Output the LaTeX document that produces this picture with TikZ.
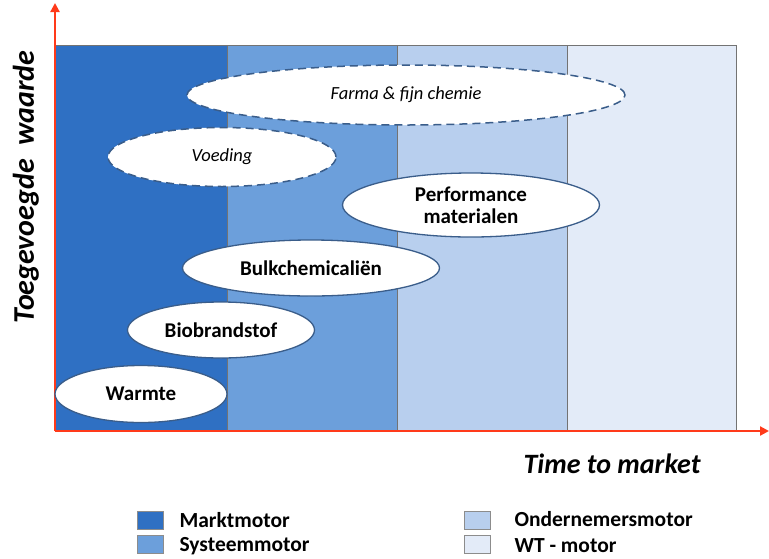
\documentclass[tikz,border=0pt]{standalone}
\usepackage{fontspec}
\setmainfont{Carlito}
\usetikzlibrary{shapes.geometric,arrows.meta}
\definecolor{cA}{HTML}{2F70C3}
\definecolor{cB}{HTML}{6C9FDB}
\definecolor{cC}{HTML}{B8CFEE}
\definecolor{cD}{HTML}{E3EBF8}
\definecolor{axisred}{HTML}{FF3A1A}
\definecolor{edge}{HTML}{3A5D8A}
\tikzset{
  col/.style={draw=black!55, line width=0.8pt},
  blob/.style={ellipse, draw=edge, fill=white, line width=1.3pt, inner sep=0pt, align=center, font=\fontsize{21}{22}\selectfont\bfseries},
  dblob/.style={blob, line width=1.5pt, dash pattern=on 8pt off 5pt, font=\fontsize{18.5}{20}\selectfont\itshape},
  legbox/.style={draw=black!45, line width=0.8pt, minimum width=26pt, minimum height=18pt, inner sep=0pt},
  legtxt/.style={anchor=west, font=\fontsize{21.5}{23}\selectfont\bfseries},
  axis/.style={draw=axisred, line width=2.2pt, -{Triangle[length=9pt,width=9pt]}}
}
\begin{document}
\begin{tikzpicture}[x=1pt,y=-1pt]
\useasboundingbox (0,0) rectangle (769,558);
% columns
\fill[cA] (55,45) rectangle (227,431);
\fill[cB] (227,45) rectangle (397,431);
\fill[cC] (397,45) rectangle (567,431);
\fill[cD] (567,45) rectangle (736,431);
\draw[col] (55,45) rectangle (227,431);
\draw[col] (227,45) rectangle (397,431);
\draw[col] (397,45) rectangle (567,431);
\draw[col] (567,45) rectangle (736,431);
% axes
\coordinate (O) at (55,431);
\coordinate (Ytop) at (55,3);
\coordinate (Xend) at (769,431);
\draw[axis] (O) -- (Ytop);
\draw[axis] (O) -- (Xend);
% ellipses
\node[dblob, minimum width=438pt, minimum height=60pt] (farma) at (406,95) {Farma \& fijn chemie};
\node[dblob, minimum width=228pt, minimum height=59pt] (voeding) at (222,157) {Voeding};
\node[blob, minimum width=257pt, minimum height=64pt] (perf) at (471,205) {Performance\\materialen};
\node[blob, minimum width=257pt, minimum height=56pt] (bulk) at (311,268) {Bulkchemicaliën};
\node[blob, minimum width=187pt, minimum height=56pt] (bio) at (221,330) {Biobrandstof};
\node[blob, minimum width=172pt, minimum height=57pt] (warm) at (141,394) {Warmte};
% axis labels
\node[rotate=90, font=\fontsize{30}{32}\selectfont\bfseries\itshape] (ylab) at (26,187) {Toegevoegde\ \ waarde};
\node[font=\fontsize{28}{30}\selectfont\bfseries\itshape] (xlab) at (612,464) {Time to market};
% legend
\node[legbox, fill=cA] (l1) at (150,520) {};
\node[legbox, fill=cB] (l2) at (150,544) {};
\node[legbox, fill=cC] (l3) at (477,520) {};
\node[legbox, fill=cD] (l4) at (477,544) {};
\node[legtxt] (t1) at (176,520) {Marktmotor};
\node[legtxt] (t2) at (176,546) {Systeemmotor};
\node[legtxt] (t3) at (511,519) {Ondernemersmotor};
\node[legtxt] (t4) at (511,546) {WT - motor};
\end{tikzpicture}
\end{document}
